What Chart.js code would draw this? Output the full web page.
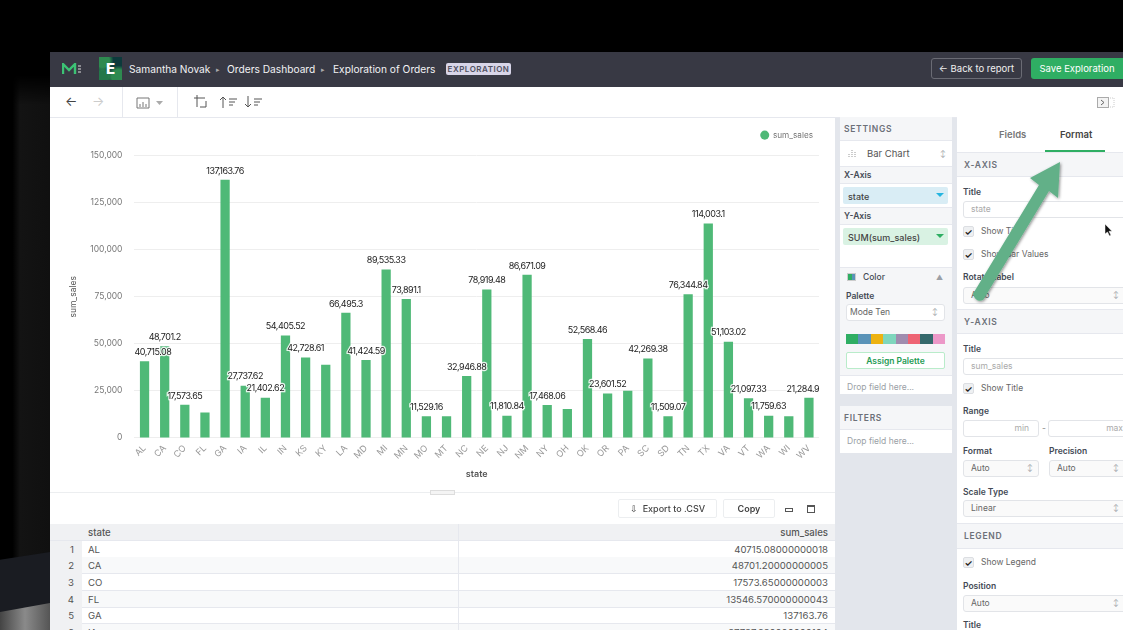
<!DOCTYPE html>
<html>
<head>
<meta charset="utf-8">
<title>Exploration of Orders</title>
<script src="https://cdn.jsdelivr.net/npm/chart.js@4"></script>
<style>
html, body { margin: 0; padding: 0; }
body { width: 1123px; height: 630px; overflow: hidden; position: relative; background: #000; font-family: Inter, "Noto Sans", sans-serif; color: #444a55; font-size: 9px; }
.abs { position: absolute; white-space: nowrap; }
.bgshape { position: absolute; left: 0; width: 50px; }
.window { position: absolute; left: 50px; top: 52px; width: 1073px; height: 578px; background: #fff; overflow: hidden; }
.topbar { left: 50px; top: 52px; width: 1073px; height: 35px; background: #383944; }
.crumb { color: #f2f2f4; font-size: 10.2px; top: 63px; }
.tag { left: 446px; top: 63px; width: 65px; height: 12px; background: #d8d5e8; color: #50505f; border-radius: 2px; font-size: 8px; line-height: 12px; text-align: center; letter-spacing: .5px; font-weight: 600; }
.btn-back { left: 931px; top: 58px; width: 91px; height: 21px; border: 1px solid #6a6b74; border-radius: 3px; box-sizing: border-box; color: #f0f0f0; font-size: 9.5px; line-height: 19px; text-align: center; }
.btn-save { left: 1031px; top: 58px; width: 92px; height: 21px; background: #2fae63; border-radius: 3px 0 0 3px; color: #fff; font-size: 9.5px; line-height: 21px; text-align: center; }
.toolbar { left: 50px; top: 87px; width: 1073px; height: 30px; background: #fff; border-bottom: 1px solid #e6e8ee; box-sizing: content-box; }
.vsep { width: 1px; height: 30px; top: 87px; background: #e6e8ee; }
.tool { color: #444; font-size: 13px; top: 93px; }
#chart-wrap { position: absolute; left: 50px; top: 118px; width: 785px; height: 374px; }
.midcol { left: 835px; top: 118px; width: 122px; height: 512px; background: #e3e6ec; }
.panel { background: #fff; }
.sec { font-weight: 600; letter-spacing: .7px; color: #6c7078; font-size: 8.5px; }
.lbl { font-weight: 600; font-size: 8.5px; color: #444a55; }
.gray { color: #9b9fa6; }
.input { background: #fff; border: 1px solid #e2e4e8; border-radius: 3px; box-sizing: border-box; height: 17px; line-height: 15px; padding-left: 7px; font-size: 8.5px; color: #666; }
.input.sel { background: #fafafa; }
.check { width: 11px; height: 11px; background: #eef0f2; border: 1px solid #dcdee2; border-radius: 2px; box-sizing: border-box; color: #222; font-size: 9px; font-weight: 700; line-height: 9px; text-align: center; }
.band { background: #f5f6f8; border-top: 1px solid #e6e8ee; border-bottom: 1px solid #e6e8ee; box-sizing: border-box; }
.tablebox { left: 50px; top: 523px; width: 785px; height: 107px; overflow: hidden; }
.row { position: absolute; left: 0; width: 785px; height: 16px; border-bottom: 1px solid #e6e8ee; box-sizing: content-box; font-size: 9.6px; line-height: 17px; color: #555; }
.row .n { position: absolute; left: 0; width: 24px; height: 17px; padding-right: 8px; background: #f0f1f3; text-align: right; }
.row .s { position: absolute; left: 38px; }
.row .v { position: absolute; right: 7px; }
.row .div { position: absolute; left: 408px; top: 0; width: 1px; height: 17px; background: #e6e8ee; }
.small-btn { height: 17px; border: 1px solid #eceef0; border-radius: 2px; box-sizing: border-box; text-align: center; line-height: 15px; font-size: 9px; font-weight: 500; color: #444; }
</style>
</head>
<body>
<div class="bgshape" style="top:75px;height:555px;background:linear-gradient(90deg,#000 25%,#131313 40%,#101010 100%);-webkit-mask-image:linear-gradient(transparent,#000 30px);"></div>
<div class="bgshape" style="top:552px;height:78px;background:#1a1c22;clip-path:polygon(0 10%,100% 0,100% 100%,0 100%);"></div>
<div class="bgshape" style="top:603px;height:27px;background:linear-gradient(90deg,#444,#8a8a8a 50%,#555);clip-path:polygon(0 33%,100% 0,100% 100%,0 100%);"></div>
<div class="window"></div>

<div class="abs topbar"></div>
<svg class="abs" style="left:62px;top:63px" width="22" height="12"><path d="M1 11V1l6 6 6-6v10" fill="none" stroke="#3cc274" stroke-width="2.4"/><path d="M16 3h3M16 6h3M16 9h3" stroke="#ddd" stroke-width="1"/></svg>
<div class="abs" style="left:99px;top:57px;width:23px;height:23px;background:radial-gradient(circle at 15% 15%,#2e8a50 25%,transparent 40%),radial-gradient(circle at 85% 85%,#2e8a50 25%,transparent 40%),radial-gradient(circle at 15% 85%,#24774a 22%,transparent 36%),#0d3a3c;color:#fff;font-weight:800;font-size:15px;line-height:23px;text-align:center;">E</div>
<div class="abs crumb" style="left:129px">Samantha Novak</div>
<div class="abs crumb" style="left:216px;font-size:7px;top:65px;color:#aaa">&#9656;</div>
<div class="abs crumb" style="left:227px">Orders Dashboard</div>
<div class="abs crumb" style="left:321px;font-size:7px;top:65px;color:#aaa">&#9656;</div>
<div class="abs crumb" style="left:333px">Exploration of Orders</div>
<div class="abs tag">EXPLORATION</div>
<div class="abs btn-back">&#8592; Back to report</div>
<div class="abs btn-save">Save Exploration</div>

<div class="abs toolbar"></div>
<div class="abs vsep" style="left:122px"></div>
<div class="abs vsep" style="left:177px"></div>
<div class="abs tool" style="left:65px">&#8592;</div>
<div class="abs tool" style="left:92px;color:#ccc">&#8594;</div>
<svg class="abs" style="left:136px;top:96px" width="30" height="13"><path d="M1 2h12M1 2v10h12v-10M4 11V8M7 11V6M10 11V8" fill="none" stroke="#777" stroke-width="1"/><path d="M20 5h7l-3.500 4z" fill="#aaa"/></svg>
<svg class="abs" style="left:192px;top:94px" width="72" height="16"><path d="M2 4h11M5 1v12M8 13h6v-6" fill="none" stroke="#555" stroke-width="1"/><path d="M31 14V3M28 6l3-3 3 3M37 5h8M37 8h6M37 11h4" fill="none" stroke="#555" stroke-width="1"/><path d="M56 2v11M53 10l3 3 3-3M62 5h8M62 8h6M62 11h4" fill="none" stroke="#555" stroke-width="1"/></svg>
<svg class="abs" style="left:1097px;top:97px" width="20" height="12"><rect x=".5" y=".5" width="11" height="10" fill="#f3f3f3" stroke="#aaa"/><path d="M4 3l3 2.500-3 2.500" fill="none" stroke="#666"/><path d="M13 1h4v9h-4" fill="none" stroke="#ccc" stroke-dasharray="1 1"/></svg>

<div id="chart-wrap"><canvas id="myChart"></canvas></div>

<!-- drag handle and table -->
<div class="abs" style="left:50px;top:492px;width:785px;height:1px;background:#eceef0"></div>
<div class="abs" style="left:430px;top:490px;width:25px;height:5px;background:#f4f4f4;border:1px solid #ddd;box-sizing:border-box"></div>
<div class="abs small-btn" style="left:618px;top:499px;width:99px;height:19px;line-height:17px">&#8681;&nbsp; Export to .CSV</div>
<div class="abs small-btn" style="left:723px;top:499px;width:52px;height:19px;line-height:17px;font-weight:600">Copy</div>
<div class="abs" style="left:785px;top:508px;width:8px;height:4px;border:1px solid #555;box-sizing:border-box"></div>
<div class="abs" style="left:807px;top:505px;width:8px;height:8px;border:1px solid #555;border-top-width:2px;box-sizing:border-box"></div>
<div class="abs tablebox" id="table"></div>

<!-- settings column -->
<div class="abs midcol"></div>
<div class="abs panel" style="left:840px;top:117px;width:112px;height:277px"></div>
<div class="abs band" style="left:840px;top:117px;width:112px;height:24px;border-top:0"></div>
<div class="abs sec" style="left:844px;top:124px">SETTINGS</div>
<div class="abs" style="left:867px;top:148px;font-size:9.5px;color:#555">Bar Chart</div>
<svg class="abs" style="left:848px;top:149px" width="9" height="10"><path d="M1 5v4M4 1v8M7 3v6" stroke="#999" stroke-width="1" stroke-dasharray="1 1"/></svg>
<div class="abs gray" style="left:940px;top:149px;font-size:7px">&#8597;</div>
<div class="abs band" style="left:840px;top:166px;width:112px;height:18px"></div>
<div class="abs lbl" style="left:844px;top:170px">X-Axis</div>
<div class="abs" style="left:843px;top:187px;width:105px;height:17px;background:#d9edf5;border-radius:2px"></div>
<div class="abs" style="left:848px;top:191px;font-size:9px;font-weight:500;color:#444">state</div>
<div class="abs" style="left:936px;top:193px;border:4px solid transparent;border-top:4px solid #25b5e0"></div>
<div class="abs band" style="left:840px;top:207px;width:112px;height:18px"></div>
<div class="abs lbl" style="left:844px;top:211px">Y-Axis</div>
<div class="abs" style="left:843px;top:228px;width:105px;height:17px;background:#d9f2e3;border-radius:2px"></div>
<div class="abs" style="left:848px;top:232px;font-size:9px;font-weight:500;color:#444">SUM(sum_sales)</div>
<div class="abs" style="left:936px;top:234px;border:4px solid transparent;border-top:4px solid #2fae63"></div>
<div class="abs band" style="left:840px;top:267px;width:112px;height:109px;border-bottom:1px solid #e6e8ee"></div>
<div class="abs" style="left:847px;top:273px;width:9px;height:8px;background:linear-gradient(90deg,#2fae63 50%,#5a93b8 50%);border:1px solid #ccc;box-sizing:border-box"></div>
<div class="abs lbl" style="left:863px;top:272px;font-weight:500">Color</div>
<div class="abs gray" style="left:936px;top:273px;font-size:7px">&#9650;</div>
<div class="abs lbl" style="left:846px;top:291px">Palette</div>
<div class="abs input" style="left:846px;top:304px;width:99px;height:17px;padding-left:3px">Mode Ten</div>
<div class="abs gray" style="left:932px;top:307px;font-size:7px">&#8597;</div>
<div class="abs" id="swatches" style="left:846px;top:334px;width:99px;height:10px;display:flex"></div>
<div class="abs" style="left:846px;top:352px;width:99px;height:17px;background:#fff;border:1px solid #b9ecca;border-radius:2px;box-sizing:border-box;color:#1f9c55;font-weight:600;font-size:8.5px;line-height:16px;text-align:center">Assign Palette</div>
<div class="abs gray" style="left:847px;top:382px;font-size:8.5px">Drop field here...</div>
<div class="abs panel" style="left:840px;top:406px;width:112px;height:47px"></div>
<div class="abs band" style="left:840px;top:406px;width:112px;height:24px;border-top:0"></div>
<div class="abs sec" style="left:844px;top:413px">FILTERS</div>
<div class="abs gray" style="left:847px;top:436px;font-size:8.5px">Drop field here...</div>

<!-- format column -->
<div class="abs panel" style="left:957px;top:117px;width:166px;height:513px"></div>
<div class="abs" style="left:999px;top:129px;font-size:9.5px;font-weight:600;color:#777">Fields</div>
<div class="abs" style="left:1060px;top:129px;font-size:9.5px;font-weight:600;color:#444">Format</div>
<div class="abs" style="left:1045px;top:150px;width:60px;height:2px;background:#2fae63"></div>
<div class="abs band" style="left:957px;top:152px;width:166px;height:25px"></div>
<div class="abs sec" style="left:964px;top:160px">X-AXIS</div>
<div class="abs lbl" style="left:963px;top:187px">Title</div>
<div class="abs input" style="left:963px;top:201px;width:170px;color:#aaa;height:17px">state</div>
<div class="abs check" style="left:963px;top:226px">&#10003;</div>
<div class="abs" style="left:981px;top:226px;font-size:8.5px;color:#666">Show Title</div>
<div class="abs check" style="left:963px;top:249px">&#10003;</div>
<div class="abs" style="left:981px;top:249px;font-size:8.5px;color:#666">Show Bar Values</div>
<div class="abs lbl" style="left:963px;top:272px">Rotate Label</div>
<div class="abs input sel" style="left:963px;top:287px;width:170px">Auto</div>
<div class="abs gray" style="left:1113px;top:290px;font-size:7px">&#8597;</div>
<div class="abs band" style="left:957px;top:309px;width:166px;height:25px"></div>
<div class="abs sec" style="left:964px;top:317px">Y-AXIS</div>
<div class="abs lbl" style="left:963px;top:344px">Title</div>
<div class="abs input" style="left:963px;top:358px;width:170px;color:#aaa">sum_sales</div>
<div class="abs check" style="left:963px;top:383px">&#10003;</div>
<div class="abs" style="left:981px;top:383px;font-size:8.5px;color:#666">Show Title</div>
<div class="abs lbl" style="left:963px;top:406px">Range</div>
<div class="abs input" style="left:963px;top:420px;width:76px;color:#aaa;text-align:right;padding-right:9px">min</div>
<div class="abs" style="left:1042px;top:423px;font-size:8.5px;color:#888">-</div>
<div class="abs input" style="left:1048px;top:420px;width:80px;color:#aaa;text-align:right;padding-right:4px">max</div>
<div class="abs lbl" style="left:963px;top:446px">Format</div>
<div class="abs lbl" style="left:1049px;top:446px">Precision</div>
<div class="abs input sel" style="left:963px;top:460px;width:76px">Auto</div>
<div class="abs gray" style="left:1027px;top:463px;font-size:7px">&#8597;</div>
<div class="abs input sel" style="left:1049px;top:460px;width:80px">Auto</div>
<div class="abs gray" style="left:1113px;top:463px;font-size:7px">&#8597;</div>
<div class="abs lbl" style="left:963px;top:487px">Scale Type</div>
<div class="abs input sel" style="left:963px;top:500px;width:170px">Linear</div>
<div class="abs gray" style="left:1113px;top:503px;font-size:7px">&#8597;</div>
<div class="abs band" style="left:957px;top:523px;width:166px;height:26px"></div>
<div class="abs sec" style="left:964px;top:531px">LEGEND</div>
<div class="abs check" style="left:963px;top:557px">&#10003;</div>
<div class="abs" style="left:981px;top:557px;font-size:8.5px;color:#666">Show Legend</div>
<div class="abs lbl" style="left:963px;top:581px">Position</div>
<div class="abs input sel" style="left:963px;top:595px;width:170px">Auto</div>
<div class="abs gray" style="left:1113px;top:598px;font-size:7px">&#8597;</div>
<div class="abs lbl" style="left:963px;top:620px">Title</div>

<!-- annotation arrow -->
<svg class="abs" style="left:960px;top:160px" width="110" height="150">
  <defs><filter id="sh"><feDropShadow dx="1" dy="1" stdDeviation="1.5" flood-color="#000" flood-opacity=".45"/></filter></defs>
  <path d="M12.900 133.900L79 25L70 18L100 2L98 38L89 31L23.100 140.100Q16 143 12.900 133.900Z" fill="#62b088" filter="url(#sh)"/>
</svg>
<svg class="abs" style="left:1104px;top:223px" width="10" height="14"><path d="M1 1v10l2.500-2 2 4 1.500-.7-2-4h3z" fill="#111" stroke="#fff" stroke-width=".5"/></svg>

<script>
// values
const categories = ['AL','CA','CO','FL','GA','IA','IL','IN','KS','KY','LA','MD','MI','MN','MO','MT','NC','NE','NJ','NM','NY','OH','OK','OR','PA','SC','SD','TN','TX','VA','VT','WA','WI','WV'];
const sumSales = [40715.08,48701.2,17573.65,13546.57,137163.76,27737.62,21402.62,54405.52,42728.61,38900,66495.3,41424.59,89535.33,73891.1,11529.16,11500,32946.88,78919.48,11810.84,86671.09,17468.06,15300,52568.46,23601.52,25100,42269.38,11509.07,76344.84,114003.1,51103.02,21097.33,11759.63,11500,21284.9];
// bars whose value label is hidden in the reference
const hiddenLabels = ['FL','KY','MT','OH','PA','WI'];
const yTicks = [0,25000,50000,75000,100000,125000,150000];

const tableRows = [['AL','40715.08000000018'],['CA','48701.20000000005'],['CO','17573.65000000003'],['FL','13546.570000000043'],['GA','137163.76'],['IA','27737.620000000104']];
const palette = ['#2fae63','#5a93b8','#edb211','#7fd6bd','#a08caf','#ee6474','#35696c','#ec98c8'];

var table = document.getElementById('table');
var head = document.createElement('div');
head.className = 'row';
head.style.cssText = 'top:1px;background:#f0f1f3;font-weight:500';
head.innerHTML = '<span class="s">state</span><span class="div"></span><span class="v">sum_sales</span>';
table.appendChild(head);
tableRows.forEach(function(r, i) {
    var row = document.createElement('div');
    row.className = 'row';
    row.style.top = (17.5 + i * 16.7) + 'px';
    if (i % 2 == 1) row.style.background = '#f8f9fa';
    row.innerHTML = '<span class="n">' + (i + 1) + '</span><span class="s">' + r[0] + '</span><span class="div"></span><span class="v">' + r[1] + '</span>';
    table.appendChild(row);
});

palette.forEach(function(c) {
    var s = document.createElement('div');
    s.style.cssText = 'flex:1;background:' + c;
    document.getElementById('swatches').appendChild(s);
});

// value labels above the bars, white halo like the original
// labels are kept inside the plot, so AL and WV shift inward
const barValues = {
    id: 'barValues',
    afterDatasetsDraw(chart) {
        var c = chart.ctx;
        var area = chart.chartArea;
        var meta = chart.getDatasetMeta(0);
        c.save();
        c.font = '9px Inter, sans-serif';
        c.letterSpacing = '-0.5px';
        c.textAlign = 'center';
        c.textBaseline = 'middle';
        meta.data.forEach(function(bar, i) {
            if (hiddenLabels.indexOf(categories[i]) >= 0) return;
            var text = sumSales[i].toLocaleString('en-US', { maximumFractionDigits: 2 });
            var half = c.measureText(text).width / 2;
            var x = Math.min(Math.max(bar.x, area.left + half), area.right - half);
            c.lineWidth = 2.5;
            c.strokeStyle = 'rgba(255,255,255,.85)';
            c.strokeText(text, x, bar.y - 9);
            c.fillStyle = '#222';
            c.fillText(text, x, bar.y - 9);
        });
        c.restore();
    }
};

// extra room under the legend
const legendGap = {
    id: 'legendGap',
    beforeInit(chart) {
        var fit = chart.legend.fit;
        chart.legend.fit = function() {
            fit.call(this);
            this.height += 6.5;
        };
    }
};

new Chart(document.getElementById('myChart'), {
    type: 'bar',
    data: {
        labels: categories,
        datasets: [{
            label: 'sum_sales',
            data: sumSales,
            backgroundColor: '#4fb977',
            barPercentage: 0.46,
            categoryPercentage: 1
        }]
    },
    plugins: [barValues, legendGap],
    options: {
        responsive: true,
        maintainAspectRatio: false,
        animation: false,
        layout: { padding: { left: 18, right: 16, top: 7, bottom: 12 } },
        plugins: {
            tooltip: { enabled: false },
            legend: {
                position: 'top',
                align: 'end',
                labels: { usePointStyle: true, pointStyle: 'circle', boxWidth: 8.2, boxHeight: 6.4, color: '#777', font: { family: 'Inter', size: 8.2 }, padding: 6 }
            }
        },
        scales: {
            x: {
                grid: { display: false },
                border: { display: false },
                ticks: { autoSkip: false, minRotation: 45, maxRotation: 45, color: '#999', padding: -3, font: { family: 'Inter', size: 9 } },
                title: { display: true, text: 'state', color: '#555', font: { family: 'Inter', size: 9, weight: '600' }, padding: { top: 11, bottom: 0 } }
            },
            y: {
                min: 0,
                max: 150000,
                afterBuildTicks(axis) { axis.ticks = yTicks.map(function(v) { return { value: v }; }); },
                grid: { color: '#eeeeee', drawTicks: false },
                border: { display: false },
                ticks: { color: '#777', padding: 12, font: { family: 'Inter', size: 8.5 }, callback: function(v) { return v.toLocaleString('en-US'); } },
                title: { display: true, text: 'sum_sales', color: '#555', font: { family: 'Inter', size: 8.5 }, padding: { top: 0, bottom: 0 } }
            }
        }
    }
});
</script>
</body>
</html>
